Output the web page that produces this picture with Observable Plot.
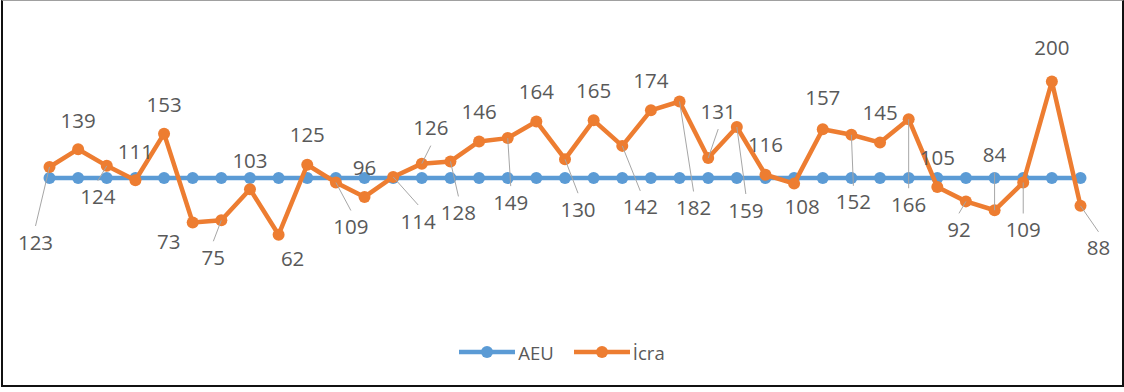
<!DOCTYPE html>
<html>
<head>
<meta charset="utf-8">
<script src="https://cdn.jsdelivr.net/npm/d3@7"></script>
<script src="https://cdn.jsdelivr.net/npm/@observablehq/plot@0.6"></script>
<style>
  html, body { margin: 0; padding: 0; background: #fff; }
  body { width: 1124px; height: 392px; position: relative; overflow: hidden; font-family: "Open Sans", sans-serif; }
  #frame { position: absolute; left: 1px; top: 0; width: 1123px; height: 387px; box-sizing: border-box;
           border-top: 1px solid #a0a0a0; border-left: 2px solid #111; border-right: 2px solid #111; border-bottom: 2px solid #111; pointer-events: none; }
  #chart { position: absolute; left: 0; top: 0; }
  #legend { position: absolute; left: 0; top: 340px; width: 1124px; height: 24px; display: flex; justify-content: center; align-items: center; gap: 20px; color: #595959; font-size: 18.5px; }
  .item { display: flex; align-items: center; gap: 3px; }
</style>
</head>
<body>
<div id="chart"></div>
<div id="legend"></div>
<div id="frame"></div>
<script>
// ---- data ----
const seriesNames = ["AEU", "İcra"];
const aeuValue = 113;
const icra = [123, 139, 124, 111, 153, 73, 75, 103, 62, 125, 109, 96, 114, 126, 128, 146, 149, 164, 130, 165, 142, 174, 182, 131, 159, 116, 108, 157, 152, 145, 166, 105, 92, 84, 109, 200, 88];
const aeu = icra.map(() => aeuValue);

// ---- label layout (pixel offsets of each data label from its point) ----
const labelDx = [-14, 0, -9, 0, 0, -24, -8, 0, 14, 0, 15, 0, 25, 9, 8, 0, 3, 0, 13, 0, 18, 0, 14, 10, 9, 0, 8, 0, 2, 0, 0, 0, -7, 0, 0, 0, 18];
const labelDy = [76, -28, 32, -28, -28, 20, 38, -28, 25, -29, 45, -29, 45, -35, 52, -29, 65, -29, 51, -29, 62, -29, 107, -46, 84, -29, 24, -31, 68, -29, 86, -29, 29, -55, 48, -33, 43];
const hasLeader = [1, 0, 1, 0, 0, 0, 1, 0, 0, 0, 1, 0, 1, 1, 1, 0, 1, 0, 1, 0, 1, 0, 1, 1, 1, 0, 0, 0, 1, 0, 1, 0, 1, 1, 1, 0, 1];

const colors = {"AEU": "#5b9bd5", "İcra": "#ed7d31"};

const W = 1124, H = 330;
const mL = 49, mR = 44, mT = 25.5, mB = 27;
const yDomain = [0, 250];
const xDomain = [0, icra.length - 1];
const xPx = (W - mL - mR) / (xDomain[1] - xDomain[0]);
const yPx = (H - mT - mB) / (yDomain[1] - yDomain[0]);

const blue = aeu.map((v, i) => ({i, v}));
const orange = icra.map((v, i) => ({
  i, v,
  lx: i + labelDx[i] / xPx,
  ly: v - labelDy[i] / yPx,
  ex: i + labelDx[i] / xPx,
  ey: v - (labelDy[i] - Math.sign(labelDy[i]) * 17) / yPx,
  leader: hasLeader[i] === 1
}));

const plot = Plot.plot({
  width: W, height: H,
  marginLeft: mL, marginRight: mR, marginTop: mT, marginBottom: mB,
  x: {axis: null, domain: xDomain},
  y: {axis: null, domain: yDomain},
  style: {background: "transparent", overflow: "visible"},
  marks: [
    Plot.line(blue, {x: "i", y: "v", stroke: colors["AEU"], strokeWidth: 4.5}),
    Plot.dot(blue, {x: "i", y: "v", r: 6, fill: colors["AEU"], stroke: "none"}),
    Plot.line(orange, {x: "i", y: "v", stroke: colors["İcra"], strokeWidth: 4.5}),
    Plot.dot(orange, {x: "i", y: "v", r: 6, fill: colors["İcra"], stroke: "none"}),
    Plot.link(orange.filter(d => d.leader), {x1: "i", y1: "v", x2: "ex", y2: "ey", stroke: "#a6a6a6", strokeWidth: 1}),
    Plot.text(orange, {x: "lx", y: "ly", text: d => String(d.v), fill: "#595959", fontSize: 20.5, fontFamily: "Open Sans"})
  ]
});
document.getElementById("chart").appendChild(plot);

// legend
const legend = d3.select("#legend");
seriesNames.forEach(name => {
  const item = legend.append("div").attr("class", "item");
  const s = item.append("svg").attr("width", 56).attr("height", 14);
  s.append("line").attr("x1", 0).attr("x2", 56).attr("y1", 7).attr("y2", 7).attr("stroke", colors[name]).attr("stroke-width", 4.5);
  s.append("circle").attr("cx", 28).attr("cy", 7).attr("r", 6).attr("fill", colors[name]);
  item.append("span").text(name);
});
</script>
</body>
</html>
